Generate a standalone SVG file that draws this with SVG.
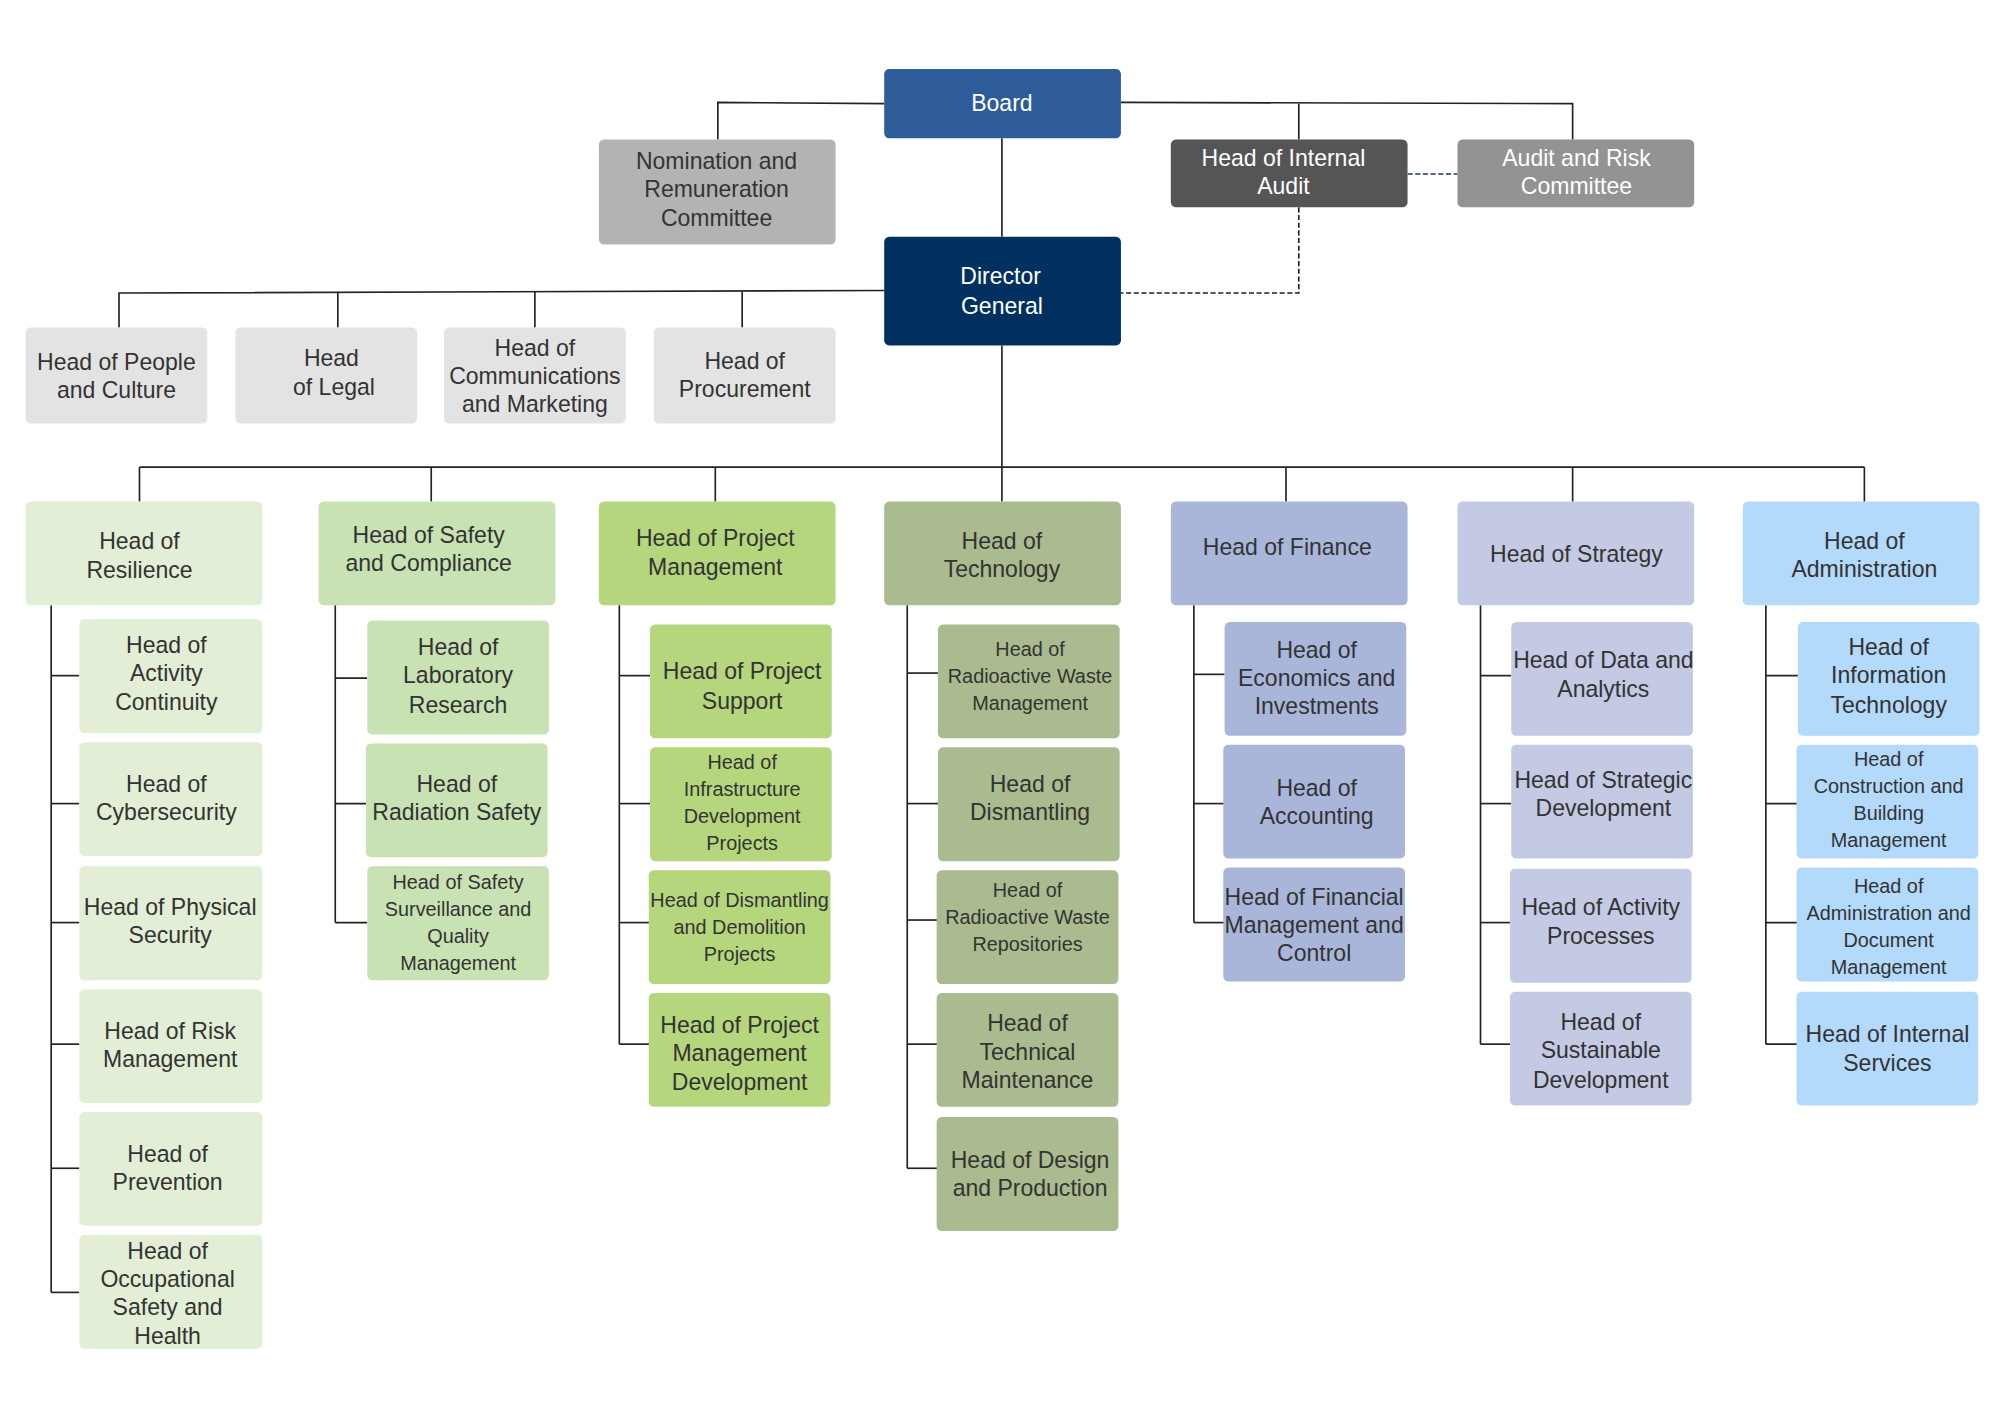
<svg xmlns="http://www.w3.org/2000/svg" width="2000" height="1414" viewBox="0 0 2000 1414">
<style>
text{font-family:"Liberation Sans",Arial,sans-serif;font-size:18px;fill:#333;text-anchor:middle}
.w{fill:#fff}
.s{font-size:15.5px}
.c line,.c polyline{stroke:#222;stroke-width:1.3;fill:none}
.d{stroke-dasharray:4 2}
rect{rx:4}
.res{fill:#E2EED5}.saf{fill:#C9E2B3}.pm{fill:#B5D67D}.tec{fill:#A9BB8F}.fin{fill:#A9B6DA}.str{fill:#C4CAE4}.adm{fill:#B3D9FB}.st{fill:#E3E3E3}
</style>
<rect width="2000" height="1414" fill="#fff" rx="0"/>
<g transform="scale(1.2796)">
<g class="c" id="connectors">
<polyline points="691,81 561,80 561,109"/>
<polyline points="876,80 1229,81 1229,109"/>
<line x1="1015" y1="81" x2="1015" y2="109"/>
<line x1="783" y1="108" x2="783" y2="185"/>
<polyline class="d" points="1015,162 1015,229 876,229"/>
<line class="d" x1="1100" y1="136" x2="1139" y2="136" style="stroke:#1f3a60"/>
<polyline points="691,227 93,229 93,256"/>
<line x1="264" y1="228" x2="264" y2="256"/>
<line x1="418" y1="228" x2="418" y2="256"/>
<line x1="580" y1="228" x2="580" y2="256"/>
<line x1="783" y1="270" x2="783" y2="392"/>
<line x1="109" y1="365" x2="1457" y2="365"/>
<line x1="109" y1="365" x2="109" y2="392"/>
<line x1="337" y1="365" x2="337" y2="392"/>
<line x1="559" y1="365" x2="559" y2="392"/>
<line x1="1005" y1="365" x2="1005" y2="392"/>
<line x1="1229" y1="365" x2="1229" y2="392"/>
<line x1="1457" y1="365" x2="1457" y2="392"/>
<line x1="40" y1="473" x2="40" y2="1010"/>
<line x1="40" y1="528" x2="62" y2="528"/><line x1="40" y1="628" x2="62" y2="628"/><line x1="40" y1="721" x2="62" y2="721"/><line x1="40" y1="816" x2="62" y2="816"/><line x1="40" y1="913" x2="62" y2="913"/><line x1="40" y1="1010" x2="62" y2="1010"/>
<line x1="262" y1="473" x2="262" y2="721"/>
<line x1="262" y1="530" x2="287" y2="530"/><line x1="262" y1="628" x2="287" y2="628"/><line x1="262" y1="721" x2="287" y2="721"/>
<line x1="484" y1="473" x2="484" y2="816"/>
<line x1="484" y1="528" x2="508" y2="528"/><line x1="484" y1="628" x2="508" y2="628"/><line x1="484" y1="721" x2="508" y2="721"/><line x1="484" y1="816" x2="508" y2="816"/>
<line x1="709" y1="473" x2="709" y2="913"/>
<line x1="709" y1="526" x2="733" y2="526"/><line x1="709" y1="628" x2="733" y2="628"/><line x1="709" y1="719" x2="733" y2="719"/><line x1="709" y1="816" x2="733" y2="816"/><line x1="709" y1="913" x2="733" y2="913"/>
<line x1="933" y1="473" x2="933" y2="721"/>
<line x1="933" y1="527" x2="957" y2="527"/><line x1="933" y1="628" x2="957" y2="628"/><line x1="933" y1="721" x2="957" y2="721"/>
<line x1="1157" y1="473" x2="1157" y2="816"/>
<line x1="1157" y1="528" x2="1181" y2="528"/><line x1="1157" y1="628" x2="1181" y2="628"/><line x1="1157" y1="721" x2="1181" y2="721"/><line x1="1157" y1="816" x2="1181" y2="816"/>
<line x1="1380" y1="473" x2="1380" y2="816"/>
<line x1="1380" y1="528" x2="1405" y2="528"/><line x1="1380" y1="628" x2="1405" y2="628"/><line x1="1380" y1="721" x2="1405" y2="721"/><line x1="1380" y1="816" x2="1405" y2="816"/>
</g>
<g id="board"><rect x="691" y="54" width="185" height="54" fill="#2E5C99"/><text class="w" x="783" y="87">Board</text></g>
<g id="nomination"><rect x="468" y="109" width="185" height="82" fill="#B3B3B3"/><text x="560" y="132">Nomination and</text><text x="560" y="154">Remuneration</text><text x="560" y="177">Committee</text></g>
<g id="internal-audit"><rect x="915" y="109" width="185" height="53" fill="#555555"/><text class="w" x="1003" y="130">Head of Internal</text><text class="w" x="1003" y="152">Audit</text></g>
<g id="audit-risk"><rect x="1139" y="109" width="185" height="53" fill="#939393"/><text class="w" x="1232" y="130">Audit and Risk</text><text class="w" x="1232" y="152">Committee</text></g>
<g id="dg"><rect x="691" y="185" width="185" height="85" fill="#003060"/><text class="w" x="782" y="222">Director</text><text class="w" x="783" y="245">General</text></g>
<g id="people"><rect class="st" x="20" y="256" width="142" height="75"/><text x="91" y="289">Head of People</text><text x="91" y="311">and Culture</text></g>
<g id="legal"><rect class="st" x="184" y="256" width="142" height="75"/><text x="259" y="286">Head</text><text x="261" y="309">of Legal</text></g>
<g id="comms"><rect class="st" x="347" y="256" width="142" height="75"/><text x="418" y="278">Head of</text><text x="418" y="300">Communications</text><text x="418" y="322">and Marketing</text></g>
<g id="procurement"><rect class="st" x="511" y="256" width="142" height="75"/><text x="582" y="288">Head of</text><text x="582" y="310">Procurement</text></g>

<g id="resilience"><rect class="res" x="20" y="392" width="185" height="81"/><text x="109" y="429">Head of</text><text x="109" y="452">Resilience</text></g>
<g id="r1"><rect class="res" x="62" y="484" width="143" height="89"/><text x="130" y="510">Head of</text><text x="130" y="532">Activity</text><text x="130" y="555">Continuity</text></g>
<g id="r2"><rect class="res" x="62" y="580" width="143" height="89"/><text x="130" y="619">Head of</text><text x="130" y="641">Cybersecurity</text></g>
<g id="r3"><rect class="res" x="62" y="677" width="143" height="89"/><text x="133" y="715">Head of Physical</text><text x="133" y="737">Security</text></g>
<g id="r4"><rect class="res" x="62" y="773" width="143" height="89"/><text x="133" y="812">Head of Risk</text><text x="133" y="834">Management</text></g>
<g id="r5"><rect class="res" x="62" y="869" width="143" height="89"/><text x="131" y="908">Head of</text><text x="131" y="930">Prevention</text></g>
<g id="r6"><rect class="res" x="62" y="965" width="143" height="89"/><text x="131" y="984">Head of</text><text x="131" y="1006">Occupational</text><text x="131" y="1028">Safety and</text><text x="131" y="1050">Health</text></g>

<g id="safety"><rect class="saf" x="249" y="392" width="185" height="81"/><text x="335" y="424">Head of Safety</text><text x="335" y="446">and Compliance</text></g>
<g id="s1"><rect class="saf" x="287" y="485" width="142" height="89"/><text x="358" y="512">Head of</text><text x="358" y="534">Laboratory</text><text x="358" y="557">Research</text></g>
<g id="s2"><rect class="saf" x="286" y="581" width="142" height="89"/><text x="357" y="619">Head of</text><text x="357" y="641">Radiation Safety</text></g>
<g id="s3"><rect class="saf" x="287" y="677" width="142" height="89"/><text class="s" x="358" y="695">Head of Safety</text><text class="s" x="358" y="716">Surveillance and</text><text class="s" x="358" y="737">Quality</text><text class="s" x="358" y="758">Management</text></g>

<g id="pm"><rect class="pm" x="468" y="392" width="185" height="81"/><text x="559" y="427">Head of Project</text><text x="559" y="449">Management</text></g>
<g id="p1"><rect class="pm" x="508" y="488" width="142" height="89"/><text x="580" y="531">Head of Project</text><text x="580" y="554">Support</text></g>
<g id="p2"><rect class="pm" x="508" y="584" width="142" height="89"/><text class="s" x="580" y="601">Head of</text><text class="s" x="580" y="622">Infrastructure</text><text class="s" x="580" y="643">Development</text><text class="s" x="580" y="664">Projects</text></g>
<g id="p3"><rect class="pm" x="507" y="680" width="142" height="89"/><text class="s" x="578" y="709">Head of Dismantling</text><text class="s" x="578" y="730">and Demolition</text><text class="s" x="578" y="751">Projects</text></g>
<g id="p4"><rect class="pm" x="507" y="776" width="142" height="89"/><text x="578" y="807">Head of Project</text><text x="578" y="829">Management</text><text x="578" y="852">Development</text></g>

<g id="tech"><rect class="tec" x="691" y="392" width="185" height="81"/><text x="783" y="429">Head of</text><text x="783" y="451">Technology</text></g>
<g id="t1"><rect class="tec" x="733" y="488" width="142" height="89"/><text class="s" x="805" y="513">Head of</text><text class="s" x="805" y="534">Radioactive Waste</text><text class="s" x="805" y="555">Management</text></g>
<g id="t2"><rect class="tec" x="733" y="584" width="142" height="89"/><text x="805" y="619">Head of</text><text x="805" y="641">Dismantling</text></g>
<g id="t3"><rect class="tec" x="732" y="680" width="142" height="89"/><text class="s" x="803" y="701">Head of</text><text class="s" x="803" y="722">Radioactive Waste</text><text class="s" x="803" y="743">Repositories</text></g>
<g id="t4"><rect class="tec" x="732" y="776" width="142" height="89"/><text x="803" y="806">Head of</text><text x="803" y="828">Technical</text><text x="803" y="850">Maintenance</text></g>
<g id="t5"><rect class="tec" x="732" y="873" width="142" height="89"/><text x="805" y="913">Head of Design</text><text x="805" y="935">and Production</text></g>

<g id="finance"><rect class="fin" x="915" y="392" width="185" height="81"/><text x="1006" y="434">Head of Finance</text></g>
<g id="f1"><rect class="fin" x="957" y="486" width="142" height="89"/><text x="1029" y="514">Head of</text><text x="1029" y="536">Economics and</text><text x="1029" y="558">Investments</text></g>
<g id="f2"><rect class="fin" x="956" y="582" width="142" height="89"/><text x="1029" y="622">Head of</text><text x="1029" y="644">Accounting</text></g>
<g id="f3"><rect class="fin" x="956" y="678" width="142" height="89"/><text x="1027" y="707">Head of Financial</text><text x="1027" y="729">Management and</text><text x="1027" y="751">Control</text></g>

<g id="strategy"><rect class="str" x="1139" y="392" width="185" height="81"/><text x="1232" y="439">Head of Strategy</text></g>
<g id="g1"><rect class="str" x="1181" y="486" width="142" height="89"/><text x="1253" y="522">Head of Data and</text><text x="1253" y="545">Analytics</text></g>
<g id="g2"><rect class="str" x="1181" y="582" width="142" height="89"/><text x="1253" y="616">Head of Strategic</text><text x="1253" y="638">Development</text></g>
<g id="g3"><rect class="str" x="1180" y="679" width="142" height="89"/><text x="1251" y="715">Head of Activity</text><text x="1251" y="738">Processes</text></g>
<g id="g4"><rect class="str" x="1180" y="775" width="142" height="89"/><text x="1251" y="805">Head of</text><text x="1251" y="827">Sustainable</text><text x="1251" y="850">Development</text></g>

<g id="admin"><rect class="adm" x="1362" y="392" width="185" height="81"/><text x="1457" y="429">Head of</text><text x="1457" y="451">Administration</text></g>
<g id="a1"><rect class="adm" x="1405" y="486" width="142" height="89"/><text x="1476" y="512">Head of</text><text x="1476" y="534">Information</text><text x="1476" y="557">Technology</text></g>
<g id="a2"><rect class="adm" x="1404" y="582" width="142" height="89"/><text class="s" x="1476" y="599">Head of</text><text class="s" x="1476" y="620">Construction and</text><text class="s" x="1476" y="641">Building</text><text class="s" x="1476" y="662">Management</text></g>
<g id="a3"><rect class="adm" x="1404" y="678" width="142" height="89"/><text class="s" x="1476" y="698">Head of</text><text class="s" x="1476" y="719">Administration and</text><text class="s" x="1476" y="740">Document</text><text class="s" x="1476" y="761">Management</text></g>
<g id="a4"><rect class="adm" x="1404" y="775" width="142" height="89"/><text x="1475" y="814">Head of Internal</text><text x="1475" y="837">Services</text></g>
</g>
</svg>
